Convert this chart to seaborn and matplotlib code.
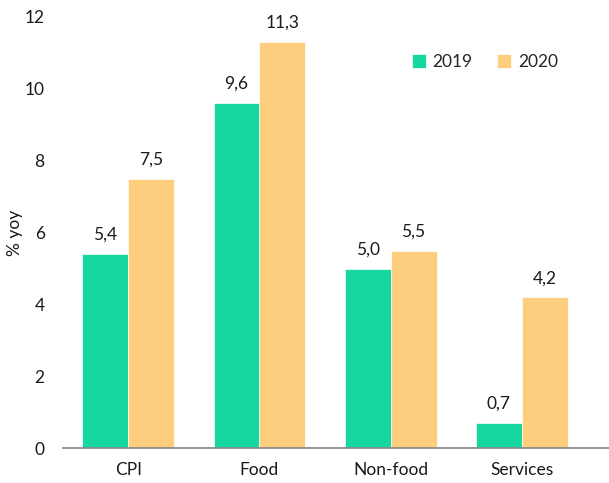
import pandas as pd
import numpy as np
import matplotlib
matplotlib.use('Agg')
import matplotlib.pyplot as plt
import seaborn as sns

categories = ['CPI', 'Food', 'Non-food', 'Services']
years = ['2019', '2020']
values_2019 = [5.4, 9.6, 5.0, 0.7]
values_2020 = [7.5, 11.3, 5.5, 4.2]

df = pd.DataFrame({
    'cat': categories * 2,
    'year': ['2019'] * 4 + ['2020'] * 4,
    'val': values_2019 + values_2020,
})

sns.set_theme(style='white')
plt.rcParams['font.family'] = ['Lato', 'DejaVu Sans']

fig = plt.figure(figsize=(6.09, 4.83), dpi=100)
ax = fig.add_axes([0.103, 0.072, 0.897, 0.893])

palette = {'2019': '#17D7A0', '2020': '#FDCE7E'}
sns.barplot(data=df, x='cat', y='val', hue='year', hue_order=years,
            palette=palette, width=0.7, saturation=1, linewidth=0.5,
            edgecolor='white', ax=ax)

# labels with comma decimal
for cont in ax.containers:
    ax.bar_label(cont, labels=[f'{v:.1f}'.replace('.', ',') for v in cont.datavalues],
                 padding=8, fontsize=12.5, color='#1a1a1a')

ax.set_ylim(0, 12)
ax.set_yticks(np.arange(0, 13, 2))
ax.set_xlim(-0.5, 3.665)
ax.set_xlabel('')
ax.set_ylabel('% yoy', fontsize=12.5, color='#1a1a1a')
ax.yaxis.set_label_coords(-0.072, 0.5)

for s in ['top', 'right', 'left']:
    ax.spines[s].set_visible(False)
ax.spines['bottom'].set_color('#888888')

ax.tick_params(axis='y', length=0, labelsize=12.5, labelcolor='#1a1a1a', pad=13)
ax.tick_params(axis='x', which='major', length=0, labelsize=12.5, labelcolor='#1a1a1a', pad=10)
ax.set_xticks([-0.5, 0.5, 1.5, 2.5], minor=True)
ax.tick_params(axis='x', which='minor', length=5, color='#888888', direction='out')

ax.legend(frameon=False, ncol=2, loc='upper right', bbox_to_anchor=(0.935, 0.95),
          fontsize=12.5, handlelength=0.8, handleheight=0.8, columnspacing=1.4,
          handletextpad=0.4)

fig.savefig('out.png', dpi=100)
